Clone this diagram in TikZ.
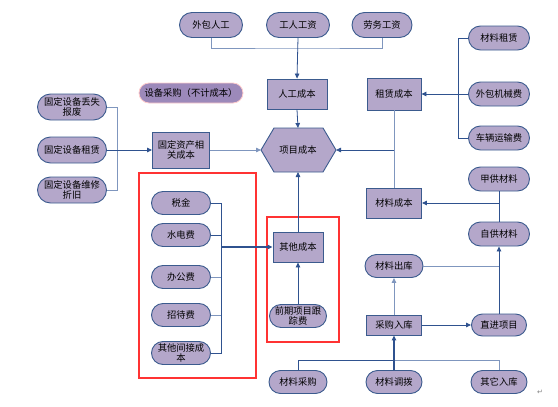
\documentclass[tikz,border=0pt]{standalone}
\usepackage{fontspec}
\newfontfamily\cjk{Noto Sans CJK SC}
\newfontfamily\djv{DejaVu Sans}
\usetikzlibrary{shapes.misc,arrows.meta}
\definecolor{fillc}{HTML}{B4A7CA}
\definecolor{bordc}{HTML}{3B5B8E}
\definecolor{linec}{HTML}{2F528F}
\definecolor{lightl}{HTML}{7F96BE}
\definecolor{darkfill}{HTML}{9C89BA}
\definecolor{redc}{HTML}{FF3333}
\begin{document}
\begin{tikzpicture}[x=1pt,y=-1pt,
  font=\cjk\fontsize{9.3}{10.3}\selectfont,
  pill/.style={rounded rectangle, draw=bordc, fill=fillc, line width=0.9pt, inner sep=0pt, align=center, minimum width=61pt, minimum height=24pt},
  boxn/.style={rectangle, draw=bordc, fill=fillc, line width=0.9pt, inner sep=0pt, align=center},
  ln/.style={draw=linec, line width=0.8pt},
  lln/.style={draw=lightl, line width=1pt},
  arr/.style={draw=linec, line width=0.8pt, -{Triangle[length=5pt,width=4.5pt]}},
  redbox/.style={draw=redc, line width=2pt}
]
\path[use as bounding box] (0,0) rectangle (558,407);

% top labour
\node[pill, minimum width=63pt, minimum height=25pt] (wbrg) at (211,25) {外包人工};
\node[pill, minimum width=63pt, minimum height=25pt] (grgz) at (298,25) {工人工资};
\node[pill, minimum width=60pt, minimum height=25pt] (lwgz) at (382,25) {劳务工资};
\node[boxn, minimum width=60pt, minimum height=30pt] (rgcb) at (297,94) {人工成本};

% hexagon
\coordinate (xmL) at (261,150);
\coordinate (xmR) at (336,150);
\coordinate (xmT) at (298,128);
\coordinate (xmB) at (298,172);
\draw[draw=bordc, fill=fillc, line width=0.9pt] (xmL) -- (274,128) -- (323,128) -- (xmR) -- (323,172) -- (274,172) -- cycle;
\node (xmcb) at (298,150) {项目成本};

% rental
\node[boxn, minimum width=54pt, minimum height=32pt] (zlcb) at (394,94) {租赁成本};
\node[pill] (clzl) at (499,38) {材料租赁};
\node[pill] (wbjx) at (499,94) {外包机械费};
\node[pill] (clys) at (499,138) {车辆运输费};

% equipment purchase
\node[rounded rectangle, draw=redc!25, fill=darkfill, line width=0.8pt, minimum width=104pt, minimum height=20pt, inner sep=0pt] (sbcg) at (191,93) {设备采购（不计成本）};

% fixed assets
\node[pill, minimum width=69pt, minimum height=26pt] (gd1) at (72,107) {固定设备丢失\\报废};
\node[pill, minimum width=69pt, minimum height=26pt] (gd2) at (72,150) {固定设备租赁};
\node[pill, minimum width=69pt, minimum height=26pt] (gd3) at (72,190) {固定设备维修\\折旧};
\node[boxn, minimum width=57pt, minimum height=36pt] (gdzc) at (181,150) {固定资产相\\关成本};

% materials
\node[boxn, minimum width=55pt, minimum height=30pt] (clcb) at (394,203) {材料成本};
\node[pill] (jgcl) at (499,179) {甲供材料};
\node[pill] (zgcl) at (499,234) {自供材料};
\node[pill, minimum width=58pt, minimum height=23pt] (clck) at (394,266) {材料出库};
\node[boxn, minimum width=55pt, minimum height=20pt] (cgrk) at (394,325) {采购入库};
\node[pill, minimum width=55pt, minimum height=22pt] (zjxm) at (499,325) {直进项目};
\node[pill, minimum width=58pt, minimum height=23pt] (clcg) at (298,382) {材料采购};
\node[pill, minimum width=56pt, minimum height=23pt] (cldb) at (394,382) {材料调拨};
\node[pill, minimum width=56pt, minimum height=23pt] (qtrk) at (499,382) {其它入库};

% other costs
\node[boxn, minimum width=50pt, minimum height=30pt] (qtcb) at (298,247) {其他成本};
\node[pill, minimum width=57pt, minimum height=23pt] (qqxm) at (298,316) {前期项目跟\\踪费};

\node[pill, minimum width=59pt, minimum height=23pt] (sj) at (181,203) {税金};
\node[pill, minimum width=59pt, minimum height=23pt] (sdf) at (181,235) {水电费};
\node[pill, minimum width=59pt, minimum height=23pt] (bgf) at (181,277) {办公费};
\node[pill, minimum width=59pt, minimum height=23pt] (zdf) at (181,315) {招待费};
\node[pill, minimum width=59pt, minimum height=23pt] (qtjj) at (181,353) {其他间接成\\本};

% red frames
\draw[redbox] (139,173) rectangle (256,378);
\draw[redbox] (267,217) rectangle (339,342);

% junction coordinates
\coordinate (j1) at (298,48);
\coordinate (j2) at (394,150);
\coordinate (j3t) at (458,38);
\coordinate (j3) at (458,94);
\coordinate (j3b) at (458,138);
\coordinate (j4t) at (117,107);
\coordinate (j4) at (117,150);
\coordinate (j4b) at (117,190);
\coordinate (j5) at (499,203);
\coordinate (j6) at (499,266);
\coordinate (j7) at (394,360);
\coordinate (j8t) at (221,203);
\coordinate (j8) at (221,247);
\coordinate (j8b) at (221,353);

% connectors: labour
\draw[lln] (wbrg.south) |- (j1) -| (lwgz.south);
\draw[arr] (grgz.south) -- (rgcb.north);
\draw[arr] (rgcb.south) -- (xmT);

% rental
\draw[lln] (zlcb.south) -- (clcb.north);
\draw[arr] (j2) -- (xmR);
\draw[ln] (clzl.west) -- (j3t) -- (j3b) -- (clys.west);
\draw[arr] (wbjx.west) -- (zlcb.east);

% fixed assets
\draw[lln] (gd1.east) -- (j4t) -- (j4b) -- (gd3.east);
\draw[arr] (gd2.east) -- (gdzc.west);
\draw[arr, draw=lightl] (gdzc.east) -- (xmL);

% materials
\draw[ln] (jgcl.south) -- (zgcl.north);
\draw[arr] (j5) -- (clcb.east);
\draw[arr] (zjxm.north) -- (zgcl.south);
\draw[lln] (clck.east) -- (j6);
\draw[arr, draw=lightl] (cgrk.north) -- (clck.south);
\draw[arr] (cgrk.east) -- (zjxm.west);
\draw[ln] (clcg.north) |- (j7);
\draw[lln] (j7) -| (qtrk.north);
\draw[arr, line width=1.4pt] (cldb.north) -- (cgrk.south);

% other costs
\draw[arr] (qtcb.north) -- (xmB);
\draw[arr] (qqxm.north) -- (qtcb.south);
\draw[ln] (sj.east) -- (j8t) -- (j8b) -- (qtjj.east);
\draw[ln] (sdf.east) -- (sdf.east -| j8);
\draw[lln] (bgf.east) -- (bgf.east -| j8);
\draw[lln] (zdf.east) -- (zdf.east -| j8);
\draw[arr, line width=1.3pt] (j8) -- (qtcb.west);

% paragraph mark
\node[font=\djv\fontsize{7}{8}\selectfont, text=gray] (pm) at (540,392) {↵};
\end{tikzpicture}
\end{document}
